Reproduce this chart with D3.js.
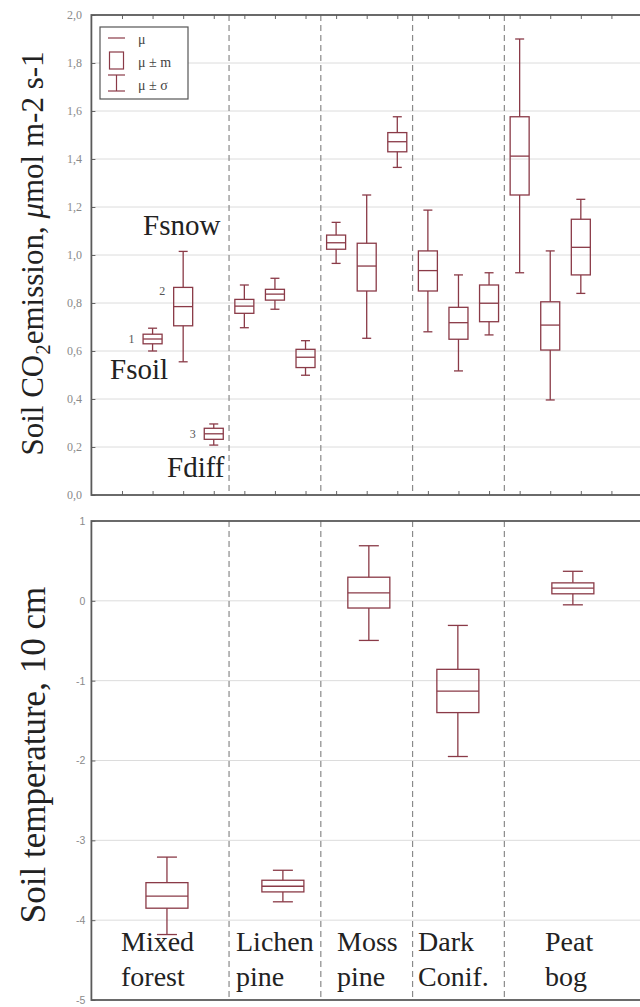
<!DOCTYPE html>
<html><head><meta charset="utf-8">
<script src="https://cdn.jsdelivr.net/npm/d3@7"></script>
<style>
html,body{margin:0;padding:0;background:#fff}svg{display:block}
svg text{font-family:"Liberation Serif",serif}
svg text.sans{font-family:"Liberation Sans",sans-serif}
</style>
</head><body>
<script>
// ---- data ----
const groups = ["Mixed forest","Lichen pine","Moss pine","Dark Conif.","Peat bog"];
const separators = [4.5, 7.5, 10.5, 13.5];
// CO2 emission boxes (position on x scale, mean, mean±m, mean±sigma)
const fluxPos   = [2, 3, 4, 5, 6, 7, 8, 9, 10, 11, 12, 13, 14, 15, 16];
const fluxMean  = [0.650, 0.785, 0.255, 0.787, 0.837, 0.574, 1.051, 0.954, 1.472, 0.935, 0.718, 0.799, 1.412, 0.708, 1.032];
const fluxMLo   = [0.630, 0.705, 0.232, 0.757, 0.812, 0.531, 1.024, 0.850, 1.430, 0.850, 0.649, 0.722, 1.250, 0.604, 0.917];
const fluxMHi   = [0.670, 0.865, 0.278, 0.815, 0.857, 0.607, 1.083, 1.049, 1.510, 1.017, 0.782, 0.875, 1.576, 0.805, 1.149];
const fluxSLo   = [0.600, 0.555, 0.208, 0.697, 0.774, 0.499, 0.965, 0.653, 1.365, 0.680, 0.517, 0.667, 0.926, 0.396, 0.840];
const fluxSHi   = [0.695, 1.015, 0.296, 0.875, 0.903, 0.643, 1.136, 1.250, 1.576, 1.187, 0.917, 0.926, 1.900, 1.017, 1.232];
// Soil temperature boxes
const tempPos   = [2.47, 6.26, 9.07, 11.98, 15.74];
const tempMean  = [-3.70, -3.575, 0.10, -1.13, 0.16];
const tempMLo   = [-3.85, -3.646, -0.09, -1.40, 0.088];
const tempMHi   = [-3.53, -3.50, 0.296, -0.858, 0.225];
const tempSLo   = [-4.18, -3.77, -0.496, -1.95, -0.05];
const tempSHi   = [-3.21, -3.375, 0.69, -0.308, 0.37];
const fluxTicks = [0, 0.2, 0.4, 0.6, 0.8, 1.0, 1.2, 1.4, 1.6, 1.8, 2.0];
const tempTicks = [-5, -4, -3, -2, -1, 0, 1];
const xTicks    = [1,2,3,4,5,6,7,8,9,10,11,12,13,14,15,16,17];

// ---- drawing ----
const W = 640, H = 1007;
const BOX = "#8a3a47";
const SERIF = "Liberation Serif, serif";
const svg = d3.select("body").append("svg").attr("width", W).attr("height", H);

const x = d3.scaleLinear().domain([0, 18]).range([91.4, 642]);
const yT = d3.scaleLinear().domain([0, 2]).range([495, 15]);
const yB = d3.scaleLinear().domain([-5, 1]).range([1000, 521]);

function panel(y, ticks, fmt, sans, labelSize, topTicks) {
  const g = svg.append("g");
  const [y0, y1] = y.range();
  g.append("g").selectAll("line").data(ticks.slice(1, -1)).join("line")
    .attr("x1", x.range()[0]).attr("x2", x.range()[1])
    .attr("y1", d => y(d)).attr("y2", d => y(d))
    .attr("stroke", "#dcdcdc").attr("stroke-width", 1);
  g.append("g").selectAll("line").data(separators).join("line")
    .attr("x1", d => x(d)).attr("x2", d => x(d))
    .attr("y1", y1).attr("y2", y0)
    .attr("stroke", "#8a8a8a").attr("stroke-width", 1.2).attr("stroke-dasharray", "6,4");
  const ax = g.append("g").attr("transform", `translate(${x.range()[0]},0)`)
    .call(d3.axisLeft(y).tickValues(ticks).tickFormat(fmt).tickSize(-4).tickPadding(sans ? 6 : 9.5));
  ax.attr("font-family", null).attr("font-size", null);
  ax.select(".domain").remove();
  ax.selectAll(".tick line").attr("stroke", "#666");
  ax.selectAll("text").attr("fill", "#8a8a8a").classed("sans", sans)
    .style("font-size", labelSize + "px");
  if (topTicks) {
    const bx = g.append("g").attr("transform", `translate(0,${y0})`)
      .call(d3.axisBottom(x).tickValues(xTicks).tickFormat("").tickSize(-4));
    bx.select(".domain").remove(); bx.selectAll(".tick line").attr("stroke", "#666");
    const tx = g.append("g").attr("transform", `translate(0,${y1})`)
      .call(d3.axisTop(x).tickValues(xTicks).tickFormat("").tickSize(-4));
    tx.select(".domain").remove(); tx.selectAll(".tick line").attr("stroke", "#666");
  }
  g.append("rect").attr("x", x.range()[0]).attr("y", y1)
    .attr("width", x.range()[1] - x.range()[0]).attr("height", y0 - y1)
    .attr("fill", "none").attr("stroke", "#5a5a5a").attr("stroke-width", 1.8);
  return g;
}

function boxes(y, pos, mean, mlo, mhi, slo, shi, bw, cw) {
  const g = svg.append("g").attr("stroke", BOX).attr("stroke-width", 1.3).attr("fill", "none");
  pos.forEach((p, i) => {
    const cx = x(p);
    g.append("line").attr("x1", cx).attr("x2", cx).attr("y1", y(shi[i])).attr("y2", y(mhi[i]));
    g.append("line").attr("x1", cx).attr("x2", cx).attr("y1", y(mlo[i])).attr("y2", y(slo[i]));
    g.append("line").attr("x1", cx - cw/2).attr("x2", cx + cw/2).attr("y1", y(shi[i])).attr("y2", y(shi[i]));
    g.append("line").attr("x1", cx - cw/2).attr("x2", cx + cw/2).attr("y1", y(slo[i])).attr("y2", y(slo[i]));
    g.append("rect").attr("x", cx - bw/2).attr("y", y(mhi[i])).attr("width", bw).attr("height", y(mlo[i]) - y(mhi[i]));
    g.append("line").attr("x1", cx - bw/2).attr("x2", cx + bw/2).attr("y1", y(mean[i])).attr("y2", y(mean[i]));
  });
}

const fmtComma = d => d3.format(".1f")(d).replace(".", ",");
panel(yT, fluxTicks, fmtComma, false, 12, true);
panel(yB, tempTicks, d => String(d), true, 10.5, false);

boxes(yT, fluxPos, fluxMean, fluxMLo, fluxMHi, fluxSLo, fluxSHi, 19, 9);
boxes(yB, tempPos, tempMean, tempMLo, tempMHi, tempSLo, tempSHi, 42, 20);

// annotations top panel
const ann = svg.append("g").attr("fill", "#222").attr("font-family", SERIF).style("font-size", "29px");
ann.append("text").attr("x", 143).attr("y", 235).text("Fsnow");
ann.append("text").attr("x", 110).attr("y", 379).text("Fsoil");
ann.append("text").attr("x", 167).attr("y", 477).text("Fdiff");
const nums = svg.append("g").attr("fill", "#555").style("font-size", "12px").attr("text-anchor", "middle");
nums.append("text").attr("x", x(fluxPos[0]) - 21).attr("y", yT(fluxMean[0]) + 4).text("1");
nums.append("text").attr("x", x(fluxPos[1]) - 21).attr("y", yT(fluxMHi[1]) + 8).text("2");
nums.append("text").attr("x", x(fluxPos[2]) - 21).attr("y", yT(fluxMean[2]) + 4).text("3");

// category labels in bottom panel
const catX = [121, 236, 337, 418, 545];
const cat = svg.append("g").attr("fill", "#222").style("font-size", "28px");
groups.forEach((gname, i) => {
  const parts = gname.split(" ");
  cat.append("text").attr("x", catX[i]).attr("y", 951).text(parts[0]);
  cat.append("text").attr("x", catX[i]).attr("y", 986).text(parts[1]);
});

// legend
const lg = svg.append("g");
lg.append("rect").attr("x", 100).attr("y", 27).attr("width", 88).attr("height", 72)
  .attr("fill", "#fff").attr("stroke", "#555").attr("stroke-width", 1.2);
const sym = lg.append("g").attr("stroke", BOX).attr("stroke-width", 1.2).attr("fill", "none");
sym.append("line").attr("x1", 108).attr("x2", 125).attr("y1", 38).attr("y2", 38);
sym.append("rect").attr("x", 109.5).attr("y", 52).attr("width", 14).attr("height", 17);
sym.append("line").attr("x1", 116.5).attr("x2", 116.5).attr("y1", 75).attr("y2", 91);
sym.append("line").attr("x1", 108).attr("x2", 125).attr("y1", 75).attr("y2", 75);
sym.append("line").attr("x1", 108).attr("x2", 125).attr("y1", 91).attr("y2", 91);
const lt = lg.append("g").attr("fill", "#444").style("font-size", "14px");
lt.append("text").attr("x", 138).attr("y", 44).text("μ");
lt.append("text").attr("x", 138).attr("y", 67).text("μ ± m");
lt.append("text").attr("x", 138).attr("y", 90).text("μ ± σ");

// axis titles
const t1 = svg.append("text").attr("transform", "translate(43,253.5) rotate(-90)")
  .attr("text-anchor", "middle").attr("fill", "#222").style("font-size", "31px");
t1.append("tspan").text("Soil CO");
t1.append("tspan").attr("dy", 7).style("font-size", "21px").text("2");
t1.append("tspan").attr("dy", -7).text("emission, ");
t1.append("tspan").style("font-style", "italic").text("μ");
t1.append("tspan").text("mol m-2 s-1");

svg.append("text").attr("transform", "translate(45,755) rotate(-90)")
  .attr("text-anchor", "middle").attr("fill", "#222").style("font-size", "35px")
  .text("Soil temperature, 10 cm");
</script>
</body></html>
